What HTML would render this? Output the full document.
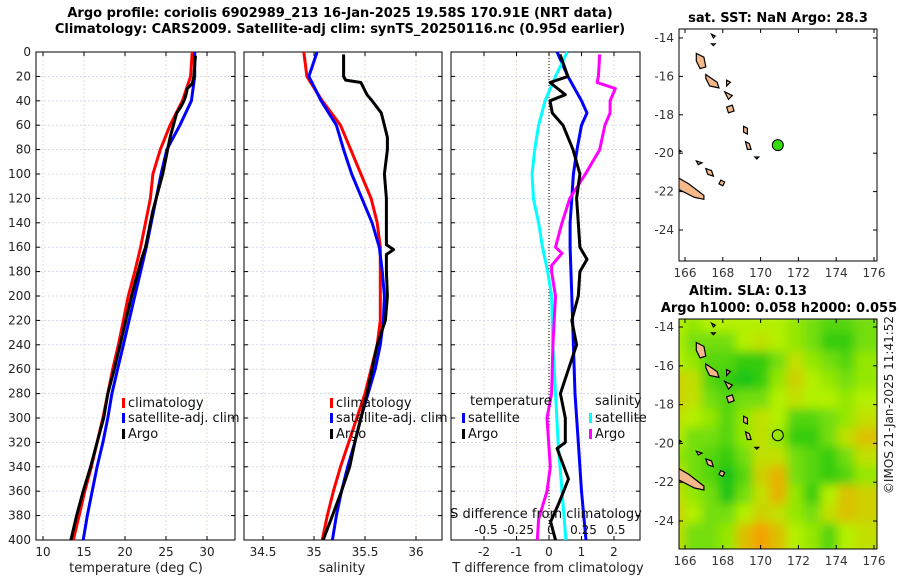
<!DOCTYPE html>
<html><head><meta charset="utf-8">
<style>
html,body{margin:0;padding:0;background:#fff;}
svg{display:block;font-family:"DejaVu Sans","Liberation Sans",sans-serif;}
</style></head>
<body>
<svg id="chart" width="900" height="580" viewBox="0 0 900 580" xmlns="http://www.w3.org/2000/svg">
<defs>
<filter id="blur" x="0" y="0" width="1" height="1"><feGaussianBlur stdDeviation="5"/></filter>
<clipPath id="clipMap2"><rect x="679" y="319" width="198" height="230"/></clipPath>
<clipPath id="clipMap1"><rect x="679" y="29" width="198" height="232"/></clipPath>
</defs>
<text x="340" y="17" text-anchor="middle" font-size="13" font-weight="bold">Argo profile: coriolis 6902989_213 16-Jan-2025 19.58S 170.91E (NRT data)</text>
<text x="340" y="33" text-anchor="middle" font-size="13" font-weight="bold">Climatology: CARS2009. Satellite-adj clim: synTS_20250116.nc (0.95d earlier)</text>
<g id="g"></g>
</svg>
<script>
// ---------- data ----------
const depthTicks = [0,20,40,60,80,100,120,140,160,180,200,220,240,260,280,300,320,340,360,380,400];
const profDepth = [0,20,40,60,80,100,120,140,160,180,200,220,240,260,280,300,320,340,360,380,400];
const tempClim = [28.2,28.0,27.0,25.5,24.3,23.4,23.1,22.5,21.9,21.2,20.4,19.8,19.2,18.5,17.9,17.3,16.6,15.9,15.1,14.4,13.7];
const tempSat  = [28.5,28.5,28.1,26.7,25.1,24.4,23.8,23.2,22.6,21.9,21.2,20.5,19.8,19.1,18.4,17.9,17.3,16.6,16.0,15.4,14.9];
const argoDepth = [3,10,20,26,30,36,40,45,50,60,70,80,90,100,110,120,130,140,150,160,170,180,190,200,220,240,260,280,300,320,340,360,380,400];
const tempArgo = [28.6,28.5,28.4,28.2,27.6,27.4,27.2,26.8,26.3,25.9,25.5,25.2,24.9,24.6,24.2,23.8,23.4,23.1,22.8,22.5,22.0,21.6,21.2,20.8,20.1,19.4,18.7,17.9,17.4,16.6,15.8,14.9,14.1,13.4];
const salClim = [34.90,34.93,35.08,35.26,35.36,35.46,35.56,35.62,35.65,35.65,35.65,35.65,35.62,35.56,35.5,35.42,35.34,35.26,35.19,35.13,35.08];
const salSat  = [35.03,34.95,35.07,35.22,35.29,35.37,35.47,35.57,35.64,35.67,35.69,35.68,35.65,35.6,35.53,35.46,35.4,35.33,35.27,35.22,35.18];
const salArgoDepth = [2,20,23,25,35,40,50,60,70,80,100,120,140,158,162,166,180,200,220,240,260,280,300,320,340,360,380,400];
const salArgo = [35.29,35.29,35.31,35.46,35.52,35.57,35.66,35.69,35.72,35.72,35.69,35.71,35.71,35.71,35.78,35.71,35.71,35.72,35.7,35.62,35.57,35.52,35.46,35.40,35.35,35.27,35.18,35.09];
const dTsatDepth = [0,20,40,50,60,80,100,120,140,160,200,240,280,320,360,400];
const dTsat  = [0.25,0.58,1.0,1.17,1.0,0.86,0.75,0.7,0.65,0.65,0.7,0.75,0.8,0.9,1.0,1.14];
const dTargoDepth = [2,20,25,35,40,50,60,80,100,120,140,160,170,180,200,220,240,260,280,300,320,325,350,370,385,400];
const dTargo = [0.34,0.58,0.03,0.5,0.03,0.1,0.43,0.74,0.95,0.85,0.9,0.95,1.17,0.95,0.9,0.7,0.85,0.6,0.35,0.5,0.5,0.25,0.6,0.3,0.05,0.2];
const dSsatDepth = [0,20,40,60,80,100,120,140,160,180,200,240,280,320,360,400];
const dSsat  = [0.14,0.05,-0.03,-0.08,-0.11,-0.13,-0.12,-0.08,-0.05,-0.01,0.02,0.03,0.05,0.07,0.1,0.13];
const dSargoDepth = [2,20,25,30,40,50,60,80,100,120,140,160,165,175,180,200,240,280,300,340,360,383,400];
const dSargo = [0.39,0.38,0.37,0.51,0.47,0.47,0.43,0.39,0.28,0.16,0.1,0.05,0.1,0.02,0.02,0.05,0.03,0.02,-0.015,0.01,-0.015,-0.08,-0.09];
const tTicks = [10,15,20,25,30];
const sTicks = [34.5,35,35.5,36];
const dTTicks = [-2,-1,0,1,2];
const dSTicks = [-0.5,-0.25,0,0.25,0.5];
const dSTickLabels = ["-0.5","-0.25","0","0.25","0.5"];
const lonTicks = [166,168,170,172,174,176];
const latTicks = [-14,-16,-18,-20,-22,-24];
const argoLon = 170.91, argoLat = -19.58;
const slaGrid = [
[.5,.4,.5,.5,.5,.5,.5,.4,.3,.2,.2,.3],
[.5,.3,.3,.3,.5,.6,.5,.4,.3,.1,.1,.3],
[.5,.4,.2,.2,.1,.1,.3,.6,.4,.3,.2,.4],
[.7,.6,.2,.1,0,.1,.4,.7,.5,.4,.3,.4],
[.7,.6,.3,.2,.3,.3,.5,.6,.5,.5,.4,.5],
[.6,.5,.4,.2,.4,.6,.5,.2,.2,.3,.4,.6],
[.5,.3,.3,.2,.4,.6,.4,.1,.1,.3,.6,.8],
[.4,.3,.2,.1,.3,.6,.6,.3,.2,.1,.3,.6],
[.6,.3,.2,0,.2,.7,.9,.3,.2,.1,.2,.4],
[.6,.4,.3,0,.3,.6,.9,.4,.1,.5,.8,.7],
[.7,.5,.3,.3,.5,.7,.6,.4,.3,.6,.8,.7],
[.6,.3,.3,.4,.8,1,.8,.5,.4,.2,.5,.6]];
const islands = [
[[166.6,-14.8],[167.0,-15.0],[167.1,-15.5],[166.8,-15.6],[166.6,-15.2]],
[[167.1,-15.9],[167.7,-16.3],[167.8,-16.6],[167.3,-16.5],[167.1,-16.1]],
[[168.2,-16.2],[168.4,-16.3],[168.2,-16.5]],
[[168.1,-16.8],[168.5,-17.0],[168.3,-17.2]],
[[168.2,-17.6],[168.5,-17.5],[168.6,-17.8],[168.3,-17.9]],
[[169.1,-18.6],[169.3,-18.7],[169.3,-19.0],[169.1,-18.9]],
[[169.2,-19.4],[169.4,-19.5],[169.5,-19.8],[169.3,-19.8]],
[[165.5,-21.2],[166.2,-21.6],[167.0,-22.2],[167.0,-22.4],[166.5,-22.3],[165.5,-21.8]],
[[167.1,-20.8],[167.4,-20.9],[167.5,-21.2],[167.2,-21.1]],
[[167.9,-21.4],[168.1,-21.5],[168.0,-21.7],[167.8,-21.6]],
[[166.6,-20.4],[166.9,-20.5],[166.7,-20.6]],
[[165.5,-19.7],[165.8,-19.9],[165.5,-20.0]],
[[167.4,-13.8],[167.6,-13.9],[167.5,-14.0]],
[[167.4,-14.3],[167.6,-14.3],[167.5,-14.4]],
[[169.7,-20.2],[169.9,-20.2],[169.8,-20.3]]];

// ---------- helpers ----------
const NS='http://www.w3.org/2000/svg';
const G=document.getElementById('g');
function el(tag,attrs,parent){const e=document.createElementNS(NS,tag);for(const k in attrs)e.setAttribute(k,attrs[k]);(parent||G).appendChild(e);return e;}
function txt(s,attrs,parent){const e=el('text',attrs,parent);e.textContent=s;return e;}
const Y0=52,Y1=540;
const yD=d=>Y0+(Y1-Y0)*d/400;
function lin(d0,d1,r0,r1){return v=>r0+(v-d0)*(r1-r0)/(d1-d0);}
const xT=lin(10,30,43,207), xS=lin(35,36,314,416), xDT=lin(0,2,549,614), xDS=lin(0,0.5,549,614);
const panels=[{x0:36,x1:235},{x0:244,x1:442},{x0:451,x1:640}];

function frame(p,name,xticks,xf,labels,bottomLabels){
  const g=el('g',{});
  
  
  for(const d of depthTicks){
    const y=yD(d);
    const gl=el('line',{x1:p.x0,x2:p.x1,y1:y,y2:y,stroke:'#b8c4e8','stroke-width':0.6,'stroke-dasharray':'2,2'},g);
    
    
    el('line',{x1:p.x0,x2:p.x0+4,y1:y,y2:y,stroke:'#000'},g);
    el('line',{x1:p.x1-4,x2:p.x1,y1:y,y2:y,stroke:'#000'},g);
  }
  xticks.forEach((v,i)=>{
    const x=xf(v);
    const gl=el('line',{x1:x,x2:x,y1:Y0,y2:Y1,stroke:'#e8c0a8','stroke-width':0.6,'stroke-dasharray':'2,2'},g);
    
    
    el('line',{x1:x,x2:x,y1:Y1,y2:Y1-4,stroke:'#000'},g);
    el('line',{x1:x,x2:x,y1:Y0,y2:Y0+4,stroke:'#000'},g);
    if(bottomLabels){const tl=txt(labels[i],{x:x,y:556,'text-anchor':'middle','font-size':12,fill:'#222'},g);
      
      }
  });
  const r=el('rect',{x:p.x0,y:Y0,width:p.x1-p.x0,height:Y1-Y0,fill:'none',stroke:'#000','stroke-width':1},g);
  
  
  return g;
}
function line(xs,ds,xf,color,name,w){
  const pts=xs.map((v,i)=>xf(v).toFixed(1)+','+yD(ds[i]).toFixed(1)).join(' ');
  const e=el('polyline',{points:pts,fill:'none',stroke:color,'stroke-width':w||3,'stroke-linejoin':'round'});
  
  
  return e;
}
function legend(x,y,color,label,name){
  const g=el('g',{});
  
  
  el('rect',{x:x,y:y-9,width:3,height:10,fill:color},g);
  txt(label,{x:x+6,y:y,'font-size':13,fill:'#111'},g);
}

// ---------- panel 1 ----------
frame(panels[0],'temperature-panel',tTicks,xT,tTicks.map(String),true);
depthTicks.forEach(d=>{const tl=txt(String(d),{x:31,y:yD(d)+4,'text-anchor':'end','font-size':12,fill:'#222'});
  
  });
line(tempClim,profDepth,xT,'#ff0000','temp-climatology-line');
line(tempSat,profDepth,xT,'#0000ff','temp-satellite-line');
line(tempArgo,argoDepth,xT,'#000','temp-argo-line');
let t=txt('temperature (deg C)',{x:136,y:572,'text-anchor':'middle','font-size':13,fill:'#222'});

legend(122,407,'#ff0000','climatology','legend-climatology');
legend(122,422,'#0000ff','satellite-adj. clim','legend-satellite');
legend(122,438,'#000','Argo','legend-argo');

// ---------- panel 2 ----------
frame(panels[1],'salinity-panel',sTicks,xS,sTicks.map(String),true);
line(salClim,profDepth,xS,'#ff0000','sal-climatology-line');
line(salSat,profDepth,xS,'#0000ff','sal-satellite-line');
line(salArgo,salArgoDepth,xS,'#000','sal-argo-line');
t=txt('salinity',{x:342,y:572,'text-anchor':'middle','font-size':13,fill:'#222'});

legend(330,407,'#ff0000','climatology','legend-climatology-2');
legend(330,422,'#0000ff','satellite-adj. clim','legend-satellite-2');
legend(330,438,'#000','Argo','legend-argo-2');

// ---------- panel 3 ----------
frame(panels[2],'difference-panel',dTTicks,xDT,dTTicks.map(String),true);
el('line',{x1:xDT(0),x2:xDT(0),y1:Y0,y2:Y1,stroke:'#000','stroke-width':1,'stroke-dasharray':'1,2'});
line(dTsat,dTsatDepth,xDT,'#0000ff','dT-satellite-line');
line(dSsat,dSsatDepth,xDS,'#00ffff','dS-satellite-line');
line(dSargo,dSargoDepth,xDS,'#ff00ff','dS-argo-line');
line(dTargo,dTargoDepth,xDT,'#000','dT-argo-line');
t=txt('S difference from climatology',{x:546,y:518,'text-anchor':'middle','font-size':13,fill:'#111'});

dSTicks.forEach((v,i)=>{const tt=txt(dSTickLabels[i],{x:xDS(v)+2,y:534,'text-anchor':'middle','font-size':12,fill:'#111'});
  });
t=txt('T difference from climatology',{x:548,y:572,'text-anchor':'middle','font-size':13,fill:'#222'});

t=txt('temperature',{x:470,y:405,'font-size':13,fill:'#111'});

t=txt('salinity',{x:595,y:405,'font-size':13,fill:'#111'});

legend(462,422,'#0000ff','satellite','legend-t-satellite');
legend(462,438,'#000','Argo','legend-t-argo');
legend(589,422,'#00ffff','satellite','legend-s-satellite');
legend(589,438,'#ff00ff','Argo','legend-s-argo');

// ---------- maps ----------
const MX0=679,MX1=877;
const mLon=lin(166,176,685,874);
function mapFrame(top,bot,latY,name,clip,withSla){
  const g=el('g',{});
  
  
  if(withSla){
    const hg=el('g',{'clip-path':'url(#'+clip+')'},g);
    const inner=el('g',{filter:'url(#blur)'},hg);
    const rows=slaGrid.length, cols=slaGrid[0].length;
    const lon0=165.5,lon1=176.3,lat0=-13.7,lat1=-25.5;
    slaGrid.forEach((row,r)=>row.forEach((v,c)=>{
      const xa=mLon(lon0+(lon1-lon0)*c/cols), xb=mLon(lon0+(lon1-lon0)*(c+1)/cols);
      const ya=latY(lat0+(lat1-lat0)*r/rows), yb=latY(lat0+(lat1-lat0)*(r+1)/rows);
      let col;
      if(v<0.5){const f=v/0.5;col=`rgb(${Math.round(20+160*f)},${Math.round(195+45*f)},${Math.round(20-20*f)})`;}
      else{const f=(v-0.5)/0.5;col=`rgb(${Math.round(180+65*f)},${Math.round(240-80*f)},0)`;}
      const rc=el('rect',{x:xa-8,y:ya-8,width:xb-xa+16,height:yb-ya+16,fill:col},inner);
      
      
    }));
  }
  const ig=el('g',{'clip-path':'url(#'+clip+')'},g);
  islands.forEach(poly=>{
    const p=el('polygon',{points:poly.map(q=>mLon(q[0]).toFixed(1)+','+latY(q[1]).toFixed(1)).join(' '),fill:'#f5b88a',stroke:'#000','stroke-width':1.2},ig);
    
    
  });
  const m=el('circle',{cx:mLon(argoLon),cy:latY(argoLat),r:5.5,fill:withSla?'none':'#33dd11',stroke:'#000','stroke-width':1},g);
  
  
  el('rect',{x:MX0,y:top,width:MX1-MX0,height:bot-top,fill:'none',stroke:'#000'},g);
  lonTicks.forEach(v=>{const x=mLon(v);
    el('line',{x1:x,x2:x,y1:bot,y2:bot-4,stroke:'#000'},g);
    el('line',{x1:x,x2:x,y1:top,y2:top+4,stroke:'#000'},g);
    const tt=txt(String(v),{x:x,y:bot+16,'text-anchor':'middle','font-size':12,fill:'#333'},g);
    });
  latTicks.forEach(v=>{const y=latY(v);
    el('line',{x1:MX0,x2:MX0+4,y1:y,y2:y,stroke:'#000'},g);
    el('line',{x1:MX1,x2:MX1-4,y1:y,y2:y,stroke:'#000'},g);
    const tt=txt(String(v),{x:674,y:y+4,'text-anchor':'end','font-size':12,fill:'#333'},g);
    });
}
mapFrame(29,261,lin(-14,-24,38,230),'sst-map','clipMap1',false);
t=txt('sat. SST: NaN Argo: 28.3',{x:778,y:22,'text-anchor':'middle','font-size':13});
t.setAttribute('font-weight','bold');

mapFrame(319,549,lin(-14,-24,327,521),'sla-map','clipMap2',true);
t=txt('Altim. SLA: 0.13',{x:748,y:295,'text-anchor':'middle','font-size':13});
t.setAttribute('font-weight','bold');

t=txt('Argo h1000: 0.058 h2000: 0.055',{x:779,y:312,'text-anchor':'middle','font-size':13});
t.setAttribute('font-weight','bold');

t=txt('©IMOS 21-Jan-2025 11:41:52',{x:0,y:0,'text-anchor':'middle','font-size':12,fill:'#222',transform:'translate(893,405) rotate(-90)'});

</script>
</body></html>
